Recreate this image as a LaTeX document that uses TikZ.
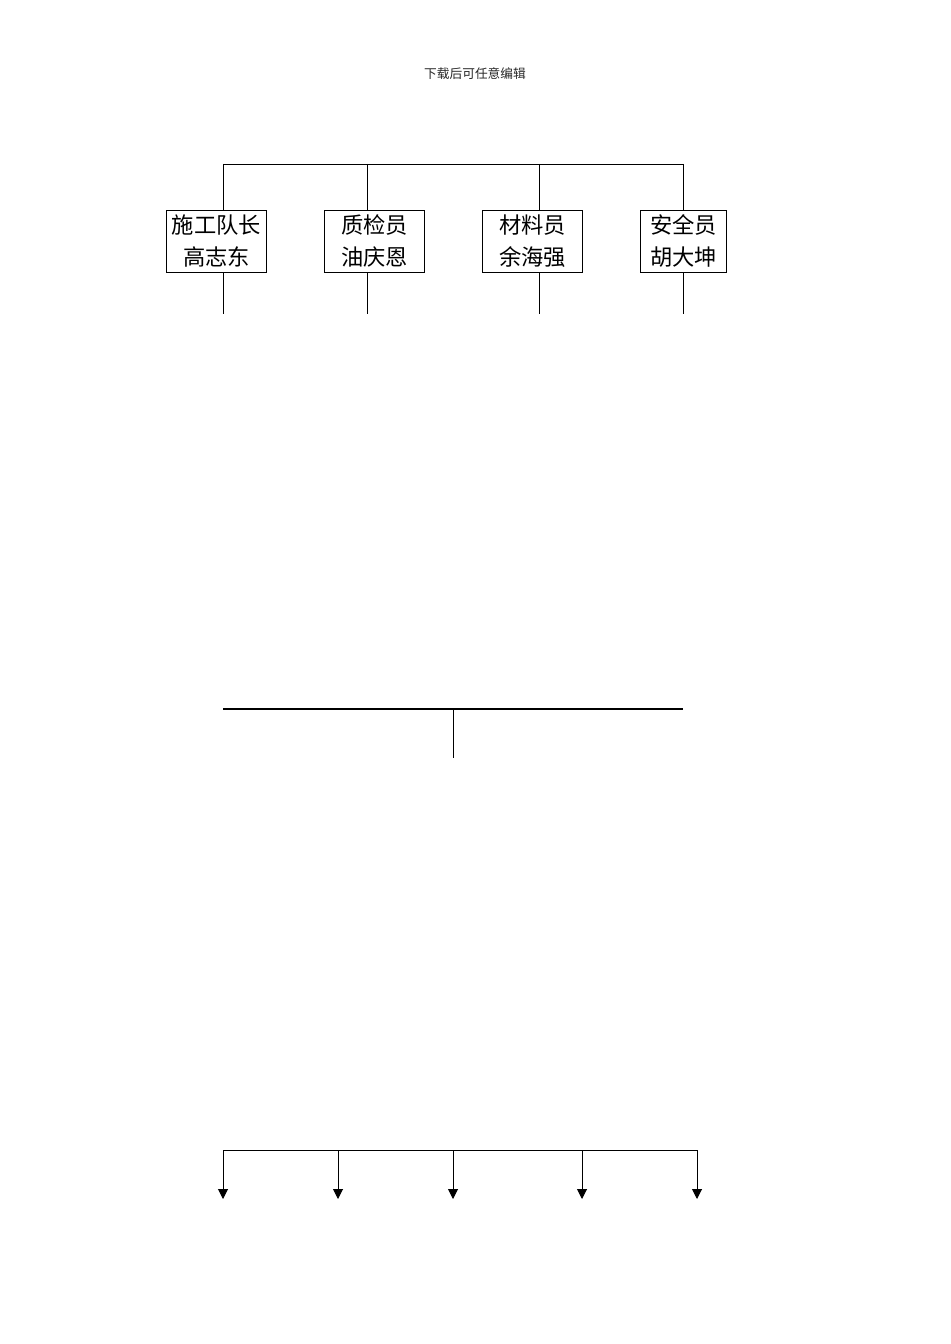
\documentclass[tikz,border=0pt]{standalone}
\usepackage{fontspec}
\usepackage{tikz}
\newfontfamily\cjk{Noto Sans CJK SC}
\usetikzlibrary{arrows.meta}
\usetikzlibrary{positioning}

\tikzset{
  staff/.style={rectangle, draw=black, line width=0.6pt, fill=white, align=center, inner sep=0pt, minimum height=1.37cm, font=\cjk\fontsize{14}{20.5}\selectfont},
  link/.style={draw=black, line width=0.6pt},
  down/.style={link, -{Triangle[length=2.2mm, width=2.2mm]}}
}

\begin{document}
\begin{tikzpicture}[x=0.0221cm, y=-0.0221cm]

\useasboundingbox (0,0) rectangle (950,1344);

\node at (475,74) [font=\cjk\fontsize{8}{10}\selectfont, text=black!85] (header) {下载后可任意编辑};

% top level
\coordinate (t1) at (223,164);
\coordinate (t2) at (367,164);
\coordinate (t3) at (539,164);
\coordinate (t4) at (683,164);
\draw[link] (t1) -- (t4);

\node at (216.5,241) [staff, minimum width=2.23cm, text depth=0.3ex] (dui) {施工队长\\高志东};
\node at (374.5,241) [staff, minimum width=2.23cm, text depth=0.3ex] (zhi) {质检员\\油庆恩};
\node at (532.5,241) [staff, minimum width=2.23cm, text depth=0.3ex] (cai) {材料员\\余海强};
\node at (683.5,241) [staff, minimum width=1.92cm, text depth=0.3ex] (an) {安全员\\胡大坤};

\draw[link] (t1) -- (t1 |- dui.north);
\draw[link] (t2) -- (t2 |- zhi.north);
\draw[link] (t3) -- (t3 |- cai.north);
\draw[link] (t4) -- (t4 |- an.north);

\coordinate (s1) at (223,314);
\coordinate (s2) at (367,314);
\coordinate (s3) at (539,314);
\coordinate (s4) at (683,314);
\draw[link] (s1 |- dui.south) -- (s1);
\draw[link] (s2 |- zhi.south) -- (s2);
\draw[link] (s3 |- cai.south) -- (s3);
\draw[link] (s4 |- an.south) -- (s4);

% middle
\coordinate (ml) at (223,709);
\coordinate (mr) at (683,709);
\coordinate (mc) at (453,758);
\draw[link, line width=0.8pt] (ml) -- (mr);
\draw[link] (ml -| mc) -- (mc);

% bottom
\coordinate (bl) at (223,1150);
\coordinate (br) at (697,1150);
\coordinate (a1) at (223,1199);
\coordinate (a2) at (338,1199);
\coordinate (a3) at (453,1199);
\coordinate (a4) at (582,1199);
\coordinate (a5) at (697,1199);
\draw[link] (bl) -- (br);
\draw[down] (bl) -- (a1);
\draw[down] (a2 |- bl) -- (a2);
\draw[down] (a3 |- bl) -- (a3);
\draw[down] (a4 |- bl) -- (a4);
\draw[down] (br) -- (a5);

\end{tikzpicture}
\end{document}
